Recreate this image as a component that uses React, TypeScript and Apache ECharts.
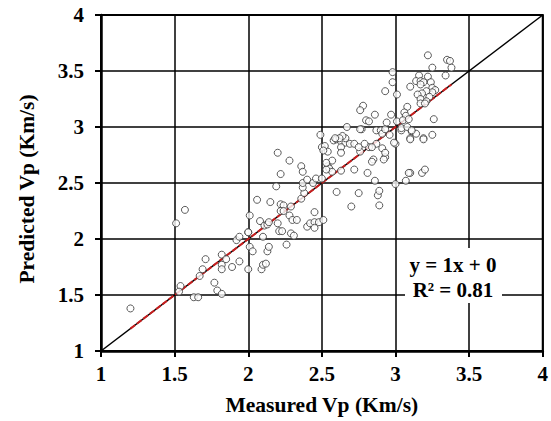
import React, { useEffect, useRef } from "react";
import * as echarts from "echarts";

const measured: number[] = [
  1.2, 1.51, 1.57, 1.54, 1.53, 1.63, 1.66, 1.67, 1.69, 1.71, 1.77, 1.79, 1.82, 1.82, 1.82, 1.82, 1.85, 1.89, 1.94, 1.92, 1.94, 2.0, 2.0, 2.01, 2.01, 2.03,
  2.06, 2.08, 2.1, 2.09, 2.1, 2.12, 2.13, 2.14, 2.11, 2.13, 2.14, 2.15, 2.19, 2.2, 2.22, 2.28, 2.2, 2.21, 2.23, 2.22, 2.24, 2.22, 2.24, 2.26, 2.29, 2.31, 2.29, 2.28, 2.3, 2.33, 2.36, 2.38, 2.37, 2.37, 2.36, 2.37, 2.4, 2.44, 2.46, 2.4, 2.42, 2.45, 2.48, 2.45, 2.51, 2.45, 2.49,
  2.5, 2.52, 2.54, 2.51, 2.58, 2.6, 2.63, 2.66, 2.69, 2.72, 2.63, 2.63, 2.57, 2.54, 2.55, 2.57, 2.63, 2.72, 2.6, 2.7, 2.75, 2.5, 2.89, 2.88, 2.89, 2.86, 3.0, 3.07, 3.1, 3.18, 3.2, 2.81, 2.93, 2.92, 2.85, 2.84, 3.0, 2.91, 2.93, 2.87, 2.82, 2.76, 2.79, 2.75, 2.66, 2.64, 2.62, 2.59, 2.77, 2.87, 2.9, 2.91, 2.96, 3.04, 3.11, 3.1, 3.14, 3.19, 3.25, 2.67, 2.76, 2.93, 2.99, 2.84, 2.53, 2.53, 2.0,
  3.22, 3.35, 3.37, 3.38, 3.34, 3.25, 2.98, 2.98, 2.93, 3.01, 3.16, 3.14, 3.17, 3.19, 3.22, 3.24, 3.1, 3.17, 3.25, 3.27, 3.25, 3.21, 3.18, 3.15, 3.17, 3.23, 3.21, 3.17, 3.2, 2.78, 2.76, 2.86, 3.08, 3.06, 3.07, 2.97, 2.8, 2.82, 2.94, 3.01, 3.05, 3.09, 3.26, 3.04, 3.08, 3.11, 3.1, 3.19, 3.09,
];
const predicted: number[] = [
  1.38, 2.14, 2.26, 1.58, 1.53, 1.48, 1.48, 1.67, 1.73, 1.82, 1.61, 1.54, 1.51, 1.86, 1.77, 1.73, 1.82, 1.75, 1.8, 1.99, 2.02, 1.73, 2.06, 2.21, 1.93, 1.89,
  2.35, 2.16, 2.02, 1.73, 1.77, 1.78, 1.89, 1.93, 2.12, 2.13, 2.15, 2.33, 2.47, 2.77, 2.58, 2.7, 2.14, 2.07, 2.07, 2.31, 2.3, 2.25, 2.25, 1.95, 2.05, 2.03, 2.29, 2.21, 2.17, 2.17, 2.36, 2.41, 2.46, 2.5, 2.65, 2.6, 2.53, 2.5, 2.54, 2.11, 2.14, 2.15, 2.15, 2.1, 2.17, 2.24, 2.93,
  2.82, 2.83, 2.78, 2.79, 2.88, 2.89, 2.87, 2.86, 2.85, 2.85, 2.82, 2.77, 2.7, 2.65, 2.63, 2.6, 2.61, 2.62, 2.42, 2.29, 2.41, 2.54, 2.3, 2.39, 2.43, 2.52, 2.49, 2.52, 2.59, 2.59, 2.62, 2.59, 2.73, 2.71, 2.71, 2.69, 2.85, 2.81, 2.77, 2.85, 2.82, 2.78, 2.85, 2.82, 2.9, 2.92, 2.9, 2.9, 2.98, 2.97, 2.97, 2.94, 2.93, 2.97, 2.96, 2.9, 2.94, 2.9, 2.93, 3.0, 2.98, 2.98, 2.86, 2.82, 2.62, 2.68, 2.06,
  3.64, 3.6, 3.59, 3.53, 3.46, 3.53, 3.49, 3.4, 3.32, 3.29, 3.46, 3.41, 3.41, 3.4, 3.45, 3.4, 3.36, 3.38, 3.35, 3.33, 3.31, 3.32, 3.3, 3.29, 3.25, 3.27, 3.23, 3.21, 3.21, 3.19, 3.15, 3.11, 3.18, 3.13, 3.1, 3.11, 3.06, 3.05, 3.04, 3.05, 3.06, 3.07, 3.07, 2.99, 3.0, 2.97, 2.89, 2.89, 2.59,
];

const axisTicks: number[] = [1, 1.5, 2, 2.5, 3, 3.5, 4];
const trendSlope = 1;
const trendIntercept = 0;
const rSquared = 0.81;
const xTitle = "Measured Vp (Km/s)";
const yTitle = "Predicted Vp (Km/s)";

const FONT = "Liberation Serif";

export default function App() {
  const ref = useRef<HTMLDivElement>(null);
  useEffect(() => {
    if (!ref.current) return;
    const chart = echarts.init(ref.current, undefined, { renderer: "svg" });
    const points = measured.map((x, i) => [x, predicted[i]]);
    const xMin = Math.min(...measured);
    const xMax = Math.max(...measured);
    const lo = axisTicks[0];
    const hi = axisTicks[axisTicks.length - 1];
    const step = axisTicks[1] - axisTicks[0];
    const labelStyle = { fontFamily: FONT, fontWeight: "bold" as const, fontSize: 21, color: "#000" };
    const titleStyle = { fontFamily: FONT, fontWeight: "bold" as const, fontSize: 21.5, color: "#000" };
    const axisCommon = {
      type: "value" as const,
      min: lo,
      max: hi,
      interval: step,
      nameLocation: "middle" as const,
      nameTextStyle: { ...titleStyle },
      axisLine: { show: true, onZero: false, lineStyle: { color: "#000", width: 2.5 } },
      axisTick: { show: true, length: 6, lineStyle: { color: "#000", width: 2 } },
      axisLabel: { ...labelStyle },
      splitLine: { show: true, lineStyle: { color: "#000", width: 1.5 } },
    };
    const eqStyle = {
      fontFamily: FONT,
      fontWeight: "bold" as const,
      fontSize: 21,
      fill: "#000",
      align: "center" as const,
      verticalAlign: "middle" as const,
    };
    chart.setOption({
      animation: false,
      backgroundColor: "#fff",
      textStyle: { fontFamily: FONT },
      grid: { left: 101, top: 15, right: 7, bottom: 66, show: true, borderColor: "#000", borderWidth: 2, backgroundColor: "transparent" },
      xAxis: {
        ...axisCommon,
        name: xTitle,
        nameGap: 43,
        axisLabel: { ...axisCommon.axisLabel, margin: 12 },
      },
      yAxis: {
        ...axisCommon,
        name: yTitle,
        nameGap: 63,
        nameTextStyle: { ...titleStyle, padding: [0, 12, 0, 0] },
        axisLabel: { ...axisCommon.axisLabel, margin: 17 },
      },
      series: [
        {
          type: "line",
          data: [[lo, lo], [hi, hi]],
          symbol: "none",
          lineStyle: { color: "#000", width: 1.5 },
          z: 2,
        },
        {
          type: "line",
          data: [
            [xMin, trendSlope * xMin + trendIntercept],
            [xMax, trendSlope * xMax + trendIntercept],
          ],
          symbol: "none",
          lineStyle: { color: "#c81e1e", width: 2, type: [6, 2] },
          z: 3,
        },
        {
          type: "scatter",
          data: points,
          symbol: "circle",
          symbolSize: 7,
          itemStyle: { color: "#fff", borderColor: "#333", borderWidth: 1 },
          z: 4,
        },
      ],
      graphic: [
        {
          type: "rect",
          z: 100,
          shape: { x: 405, y: 248, width: 97, height: 55 },
          style: { fill: "#fff" },
        },
        {
          type: "text",
          z: 101,
          x: 453,
          y: 265,
          style: { ...eqStyle, text: `y = ${trendSlope}x + ${trendIntercept}` },
        },
        {
          type: "text",
          z: 101,
          x: 453,
          y: 290,
          style: { ...eqStyle, text: `R² = ${rSquared}` },
        },
      ],
    });
    return () => chart.dispose();
  }, []);
  return <div ref={ref} style={{ position: "fixed", left: 0, top: 0, width: 551, height: 421 }} />;
}
